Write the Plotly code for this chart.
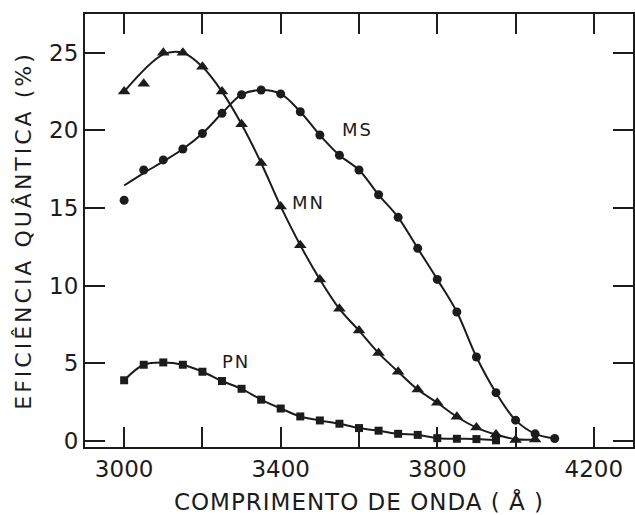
import plotly.graph_objects as go

# ---- data ----
wl = [3000, 3050, 3100, 3150, 3200, 3250, 3300, 3350, 3400, 3450, 3500, 3550,
      3600, 3650, 3700, 3750, 3800, 3850, 3900, 3950, 4000, 4050, 4100]

mn_x = wl[:22]
mn_y = [22.5, 23.0, 25.0, 25.0, 24.1, 22.5, 20.4, 17.9, 15.1, 12.6, 10.4, 8.5,
        7.1, 5.65, 4.45, 3.3, 2.45, 1.55, 0.85, 0.4, 0.05, 0.08]

ms_x = wl[:23]
ms_y = [15.5, 17.45, 18.1, 18.8, 19.8, 21.1, 22.3, 22.6, 22.35, 21.2, 19.7, 18.4,
        17.45, 15.85, 14.4, 12.4, 10.4, 8.3, 5.4, 3.1, 1.33, 0.45, 0.15]

pn_x = wl[:20]
pn_y = [3.9, 4.9, 5.05, 4.9, 4.45, 3.85, 3.35, 2.65, 2.08, 1.57, 1.31, 1.1,
        0.82, 0.65, 0.45, 0.38, 0.17, 0.13, 0.11, 0.03]

# fitted curves (as drawn in the figure)
mn_curve_x = [3000, 3100, 3150, 3200, 3250, 3300, 3350, 3400, 3450, 3500, 3550,
              3600, 3650, 3700, 3750, 3800, 3850, 3900, 3950, 4000, 4050]
mn_curve_y = [22.5, 24.9, 25.0, 24.1, 22.5, 20.4, 17.9, 15.1, 12.6, 10.4, 8.5,
              7.1, 5.65, 4.45, 3.3, 2.45, 1.55, 0.85, 0.4, 0.1, 0.08]
ms_curve_x = wl[:23]
ms_curve_y = [16.45, 17.25, 18.0, 18.8, 19.8, 21.1, 22.3, 22.6, 22.35, 21.2, 19.7, 18.4,
              17.45, 15.85, 14.4, 12.4, 10.4, 8.3, 5.4, 3.1, 1.33, 0.45, 0.15]
pn_curve_x = pn_x
pn_curve_y = pn_y

x_ticks = [3000, 3200, 3400, 3600, 3800, 4000, 4200]
x_ticktext = ["3000", "", "3400", "", "3800", "", "4200"]
y_ticks = [0, 5, 10, 15, 20, 25]

labels = ["MS", "MN", "PN"]
label_x = [3597, 3472, 3285]
label_y = [20.06, 15.33, 5.1]

INK = "#1c1c1c"
FONT = "DejaVu Sans"

fig = go.Figure()

for cx, cy in [(mn_curve_x, mn_curve_y), (ms_curve_x, ms_curve_y), (pn_curve_x, pn_curve_y)]:
    fig.add_trace(go.Scatter(x=cx, y=cy, mode="lines",
                             line=dict(color=INK, width=2, shape="spline", smoothing=1.0),
                             hoverinfo="skip", showlegend=False))

fig.add_trace(go.Scatter(x=mn_x, y=mn_y, mode="markers", name="MN",
                         marker=dict(symbol="triangle-up", size=11, color=INK),
                         showlegend=False))
fig.add_trace(go.Scatter(x=ms_x, y=ms_y, mode="markers", name="MS",
                         marker=dict(symbol="circle", size=9, color=INK),
                         showlegend=False))
fig.add_trace(go.Scatter(x=pn_x, y=pn_y, mode="markers", name="PN",
                         marker=dict(symbol="square", size=8, color=INK),
                         showlegend=False))

for t, lx, ly in zip(labels, label_x, label_y):
    fig.add_annotation(x=lx, y=ly, text='<span style="letter-spacing:2px">' + t + '</span>',
                       showarrow=False, font=dict(family=FONT, size=18, color=INK))

fig.update_layout(
    width=635, height=515,
    margin=dict(l=85, r=2, t=14, b=68),
    paper_bgcolor="white", plot_bgcolor="white",
    showlegend=False,
    font=dict(family=FONT, color=INK),
)

fig.update_xaxes(
    range=[2900, 4300], tickvals=x_ticks, ticktext=x_ticktext,
    ticks="inside", ticklen=20, tickwidth=1.6, tickcolor=INK,
    showline=True, linewidth=2, linecolor=INK, mirror="ticks",
    showgrid=False, zeroline=False, automargin=False,
    tickfont=dict(family=FONT, size=23, color=INK),
    title=dict(text='<span style="letter-spacing:1px">COMPRIMENTO DE ONDA ( Å )</span>',
               font=dict(family=FONT, size=23, color=INK), standoff=13),
)
fig.update_yaxes(
    range=[-0.4, 27.5], tickvals=y_ticks,
    ticks="inside", ticklen=20, tickwidth=1.6, tickcolor=INK,
    showline=True, linewidth=2, linecolor=INK, mirror="ticks",
    showgrid=False, zeroline=False, automargin=False,
    tickfont=dict(family=FONT, size=23, color=INK),
    title=dict(text='<span style="letter-spacing:3px">EFICIÊNCIA QUÂNTICA (%)</span>',
               font=dict(family=FONT, size=22, color=INK), standoff=11),
)

fig.write_html("out.html", config={"displayModeBar": False},
               post_script="document.body.style.margin='0px';")
